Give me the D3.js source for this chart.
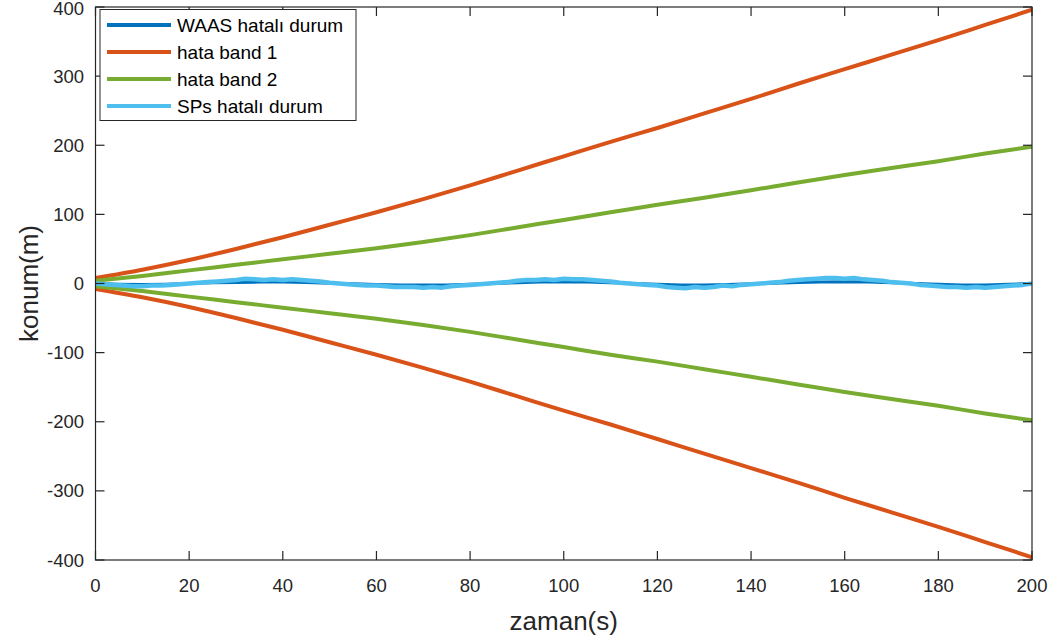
<!DOCTYPE html>
<html>
<head>
<meta charset="utf-8">
<script src="https://cdn.jsdelivr.net/npm/d3@7/dist/d3.min.js"></script>
<style>
  body { margin: 0; background: #fff; }
  svg { font-family: "Liberation Sans", Arial, sans-serif; }
</style>
</head>
<body>
<svg id="chart" width="1053" height="639"></svg>
<script>
// band time base (s)
const bandTime = d3.range(0, 201, 10);
const band1Upper = [8, 20, 34, 50, 67, 85, 103, 122, 142, 163, 184, 205, 225, 246, 267, 289, 310, 331, 352, 374, 396];
const band1Lower = [-8, -20, -34, -50, -67, -85, -103, -122, -142, -163, -184, -204, -225, -246, -267, -288, -310, -331, -352, -374, -396];
const band2Upper = [4, 11, 19, 27, 35, 43, 51, 60, 70, 81, 92, 103, 114, 124, 135, 146, 157, 167, 177, 188, 198];
const band2Lower = [-4, -11, -19, -27, -35, -43, -51, -60, -70, -81, -92, -103, -113, -124, -135, -146, -157, -167, -177, -188, -198];

const waasTime = d3.range(0, 201, 5);
const waasError = [0, -1, -1.5, -1, 0, 1, 1.5, 2, 2, 1.5, 0.5, -0.5, -1.5, -2, -2, -2, -1, 0, 1, 2, 2,
  2, 1, 0, -1, -2, -2, -1.5, -0.5, 0.5, 1.5, 2, 2.5, 2, 1, 0, -1, -2, -2, -1, 0];

const spsTime = d3.range(0, 201, 2);
const spsError = [0, -1, -2, -3, -4, -4, -3, -3, -2, -1, 0, 1, 2, 3, 4, 5, 7, 6, 5, 6,
  5, 6, 5, 4, 3, 1, 0, -1, -2, -3, -3, -4, -5, -5, -5, -6, -5, -6, -4, -3,
  -2, -1, 0, 1, 2, 4, 5, 5, 6, 5, 7, 6, 6, 5, 4, 3, 1, 0, -1, -2,
  -3, -5, -6, -7, -5, -6, -5, -3, -4, -2, -1, 0, 1, 2, 4, 5, 6, 7, 8, 8,
  7, 8, 6, 5, 4, 2, 1, 0, -2, -3, -4, -5, -5, -6, -5, -6, -5, -4, -3, -2, 0];

const xTicks = d3.range(0, 201, 20);
const yTicks = d3.range(-400, 401, 100);

const svg = d3.select("#chart");
const margin = { left: 95.5, right: 1032, top: 7, bottom: 560 };

const x = d3.scaleLinear().domain([0, 200]).range([margin.left, margin.right]);
const y = d3.scaleLinear().domain([-400, 400]).range([margin.bottom, margin.top]);

const axisColor = "#262626";

svg.append("defs").append("clipPath").attr("id", "plot-clip")
  .append("rect")
  .attr("x", margin.left).attr("y", margin.top)
  .attr("width", margin.right - margin.left)
  .attr("height", margin.bottom - margin.top);

const series = [
  { name: "WAAS hatalı durum", color: "#0072BD", width: 3, lines: [[waasTime, waasError]] },
  { name: "hata band 1", color: "#D95319", width: 4, lines: [[bandTime, band1Upper], [bandTime, band1Lower]] },
  { name: "hata band 2", color: "#77AC30", width: 4, lines: [[bandTime, band2Upper], [bandTime, band2Lower]] },
  { name: "SPs hatalı durum", color: "#4DBEEE", width: 4.5, lines: [[spsTime, spsError]] }
];

const plot = svg.append("g").attr("clip-path", "url(#plot-clip)");

series.forEach(s => {
  s.lines.forEach(([ts, vs]) => {
    const pts = ts.map((t, i) => [t, vs[i]]);
    const line = d3.line()
      .x(d => x(d[0]))
      .y(d => y(d[1]))
      .curve(ts.length > 30 ? d3.curveLinear : d3.curveMonotoneX);
    plot.append("path")
      .datum(pts)
      .attr("d", line)
      .attr("fill", "none")
      .attr("stroke", s.color)
      .attr("stroke-width", s.width)
      .attr("stroke-linejoin", "round");
  });
});

// axes (MATLAB-style box with inward ticks)
const tickLen = 9;
const axisG = svg.append("g");

axisG.append("rect")
  .attr("x", margin.left).attr("y", margin.top)
  .attr("width", margin.right - margin.left)
  .attr("height", margin.bottom - margin.top)
  .attr("fill", "none")
  .attr("stroke", axisColor)
  .attr("stroke-width", 1.2);

xTicks.forEach(t => {
  const px = x(t);
  axisG.append("line").attr("x1", px).attr("x2", px)
    .attr("y1", margin.bottom).attr("y2", margin.bottom - tickLen)
    .attr("stroke", axisColor).attr("stroke-width", 1.2);
  axisG.append("line").attr("x1", px).attr("x2", px)
    .attr("y1", margin.top).attr("y2", margin.top + tickLen)
    .attr("stroke", axisColor).attr("stroke-width", 1.2);
  axisG.append("text")
    .attr("x", px).attr("y", 592)
    .attr("text-anchor", "middle")
    .attr("font-size", 18.5)
    .attr("fill", axisColor)
    .text(t);
});

yTicks.forEach(v => {
  const py = y(v);
  axisG.append("line").attr("x1", margin.left).attr("x2", margin.left + tickLen)
    .attr("y1", py).attr("y2", py)
    .attr("stroke", axisColor).attr("stroke-width", 1.2);
  axisG.append("line").attr("x1", margin.right).attr("x2", margin.right - tickLen)
    .attr("y1", py).attr("y2", py)
    .attr("stroke", axisColor).attr("stroke-width", 1.2);
  axisG.append("text")
    .attr("x", 84).attr("y", Math.max(py + 6.5, 15))
    .attr("text-anchor", "end")
    .attr("font-size", 18.5)
    .attr("fill", axisColor)
    .text(v);
});

svg.append("text")
  .attr("x", (margin.left + margin.right) / 2).attr("y", 630)
  .attr("text-anchor", "middle")
  .attr("font-size", 26)
  .attr("fill", axisColor)
  .text("zaman(s)");

svg.append("text")
  .attr("transform", `translate(38, ${(margin.top + margin.bottom) / 2}) rotate(-90)`)
  .attr("text-anchor", "middle")
  .attr("font-size", 26)
  .attr("fill", axisColor)
  .text("konum(m)");

// legend
const legend = svg.append("g");
legend.append("rect")
  .attr("x", 100).attr("y", 9.5)
  .attr("width", 256).attr("height", 111)
  .attr("fill", "#fff")
  .attr("stroke", axisColor)
  .attr("stroke-width", 1);

series.forEach((s, i) => {
  const ly = 25 + i * 27;
  legend.append("line")
    .attr("x1", 107).attr("x2", 171)
    .attr("y1", ly).attr("y2", ly)
    .attr("stroke", s.color)
    .attr("stroke-width", 4);
  legend.append("text")
    .attr("x", 177).attr("y", ly + 6.5)
    .attr("font-size", 19)
    .attr("fill", "#000")
    .text(s.name);
});
</script>
</body>
</html>
